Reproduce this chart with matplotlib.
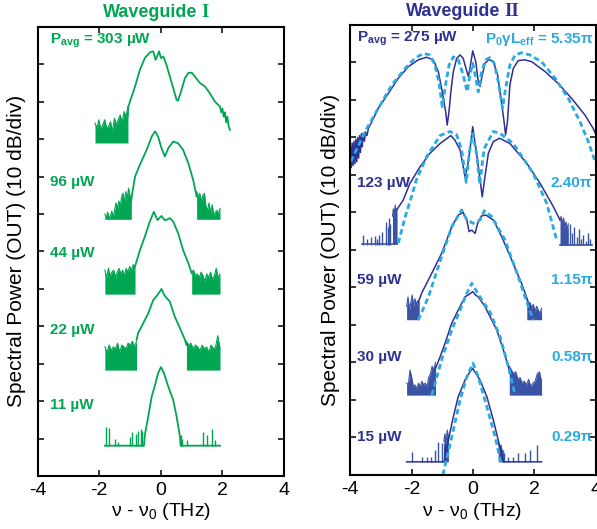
import numpy as np
import matplotlib
matplotlib.use("Agg")
import matplotlib.pyplot as plt

plt.rcParams['font.family'] = ['Liberation Sans', 'DejaVu Sans']
plt.rcParams['mathtext.fontset'] = 'custom'
plt.rcParams['mathtext.rm'] = 'Liberation Sans'
plt.rcParams['mathtext.bf'] = 'Liberation Sans:bold'
plt.rcParams['mathtext.it'] = 'Liberation Sans:italic'

GREEN = '#00A651'
NAVY = '#2E3192'
NOISE_BLUE = '#3A53A4'
CYAN = '#29ABE2'

# ---------- Waveguide I (green) : measured spectra, y in divisions ----------
wg1_labels = ['96 µW', '44 µW', '22 µW', '11 µW']
wg1_label_y = [7.86, 5.96, 3.90, 1.90]

wg1_303 = [(-1.08, 9.6), (-1.06, 9.87), (-0.84, 10.41), (-0.68, 10.86), (-0.52, 11.17),
           (-0.36, 11.32), (-0.25, 11.35), (-0.17, 11.12), (-0.06, 11.35), (0.0, 11.17),
           (0.08, 11.21), (0.18, 10.99), (0.29, 10.68), (0.40, 10.37), (0.51, 10.05),
           (0.56, 10.03), (0.67, 10.32), (0.78, 10.63), (0.89, 10.77), (1.0, 10.78),
           (1.10, 10.68), (1.27, 10.50), (1.43, 10.41), (1.59, 10.23), (1.75, 10.01),
           (1.92, 9.87), (1.96, 9.72), (2.0, 9.82), (2.04, 9.6), (2.08, 9.72),
           (2.12, 9.45), (2.16, 9.6), (2.2, 9.35), (2.24, 9.25)]
wg1_96 = [(-0.97, 7.3), (-0.95, 7.45), (-0.90, 7.7), (-0.84, 8.0), (-0.68, 8.32), (-0.46, 8.72),
          (-0.30, 9.07), (-0.19, 9.21), (-0.09, 9.07), (0.02, 8.76), (0.13, 8.54),
          (0.24, 8.76), (0.40, 8.94), (0.56, 8.89), (0.72, 8.72), (0.89, 8.36),
          (1.05, 7.91), (1.16, 7.47)]
wg1_44 = [(-0.84, 5.60), (-0.68, 6.04), (-0.52, 6.40), (-0.36, 6.80), (-0.23, 7.06),
          (-0.11, 6.84), (0.02, 6.95), (0.13, 6.83), (0.29, 6.89), (0.40, 6.80),
          (0.56, 6.49), (0.72, 6.04), (0.89, 5.69), (1.0, 5.42)]
wg1_22 = [(-0.79, 3.64), (-0.74, 3.82), (-0.63, 3.99), (-0.41, 4.35), (-0.25, 4.70),
          (-0.1, 4.85), (0.02, 5.0), (0.12, 4.82), (0.29, 4.66), (0.45, 4.26),
          (0.62, 3.95), (0.78, 3.64), (0.83, 3.5)]
wg1_11 = [(-1.82, 0.81), (-0.55, 0.81), (-0.52, 1.10), (-0.41, 1.59), (-0.30, 2.12),
          (-0.19, 2.43), (-0.09, 2.75), (0.0, 2.91), (0.10, 2.75), (0.24, 2.39),
          (0.40, 2.03), (0.51, 1.59), (0.62, 1.05), (0.64, 0.81), (1.92, 0.81)]

# noise floors: (x start, x end, floor, ragged tops)
wg1_noise = [
    (-2.14, -1.07, 8.90, [9.43, 9.30, 9.52, 9.25, 9.39, 9.52, 9.30, 9.34, 9.47, 9.20,
                          9.56, 9.40, 9.52, 9.65, 9.45, 9.74, 9.60, 9.87]),
    (-1.82, -0.96, 6.86, [7.0, 6.9, 7.05, 6.9, 6.95, 7.08, 6.9, 7.1, 7.3, 7.15,
                          7.35, 7.2, 7.45, 7.56, 7.3, 7.6, 7.4, 7.69, 7.5, 7.3]),
    (1.16, 1.92, 6.86, [7.6, 7.45, 7.55, 7.35, 7.5, 7.55, 7.2, 7.1, 7.3, 7.0,
                        7.25, 6.95, 7.05, 7.1, 7.0, 7.15]),
    (-1.82, -0.84, 4.86, [5.5, 5.3, 5.55, 5.35, 5.45, 5.5, 5.3, 5.45, 5.55, 5.4,
                          5.5, 5.35, 5.55, 5.45, 5.6, 5.5, 5.65, 5.6]),
    (1.0, 1.92, 4.86, [5.45, 5.5, 5.35, 5.4, 5.3, 5.45, 5.35, 5.2, 5.4, 5.3,
                       5.45, 5.25, 5.35, 5.55, 5.3, 5.4]),
    (-1.82, -0.79, 2.83, [3.45, 3.3, 3.5, 3.35, 3.45, 3.4, 3.55, 3.3, 3.5, 3.45,
                          3.4, 3.55, 3.5, 3.6, 3.45, 3.6]),
    (0.83, 1.92, 2.83, [3.6, 3.5, 3.55, 3.4, 3.5, 3.45, 3.35, 3.5, 3.4, 3.45,
                        3.3, 3.5, 3.4, 3.45, 3.75, 3.4]),
]
wg1_11_spike_x = [-1.79, -1.69, -1.49, -1.40, -1.01, -0.93, -0.81, -0.73, -0.66, -0.60,
                  0.64, 0.70, 0.84, 1.37, 1.50, 1.65, 1.76]
wg1_11_spike_top = [1.30, 1.28, 1.0, 0.92, 1.05, 1.18, 1.12, 1.21, 1.25, 1.2,
                    1.1, 1.0, 0.95, 1.18, 1.09, 1.26, 0.95]

# ---------- Waveguide II (navy = measured, cyan dashed = simulated) ----------
wg2_labels = ['123 µW', '59 µW', '30 µW', '15 µW']
wg2_phase = ['2.40π', '1.15π', '0.58π', '0.29π']
wg2_label_y = [7.79, 5.2, 3.15, 1.02]

wg2_275 = [(-4.0, 8.15), (-3.98, 8.75), (-3.96, 8.2), (-3.93, 8.85), (-3.9, 8.25),
           (-3.87, 8.9), (-3.84, 8.3), (-3.81, 8.95), (-3.78, 8.35), (-3.75, 9.0),
           (-3.72, 8.45), (-3.69, 9.05), (-3.66, 8.6), (-3.63, 9.1), (-3.6, 8.75),
           (-3.57, 9.12), (-3.53, 8.9), (-3.5, 9.15), (-3.45, 9.05), (-3.4, 9.25),
           (-3.29, 9.42), (-3.08, 9.78), (-2.75, 10.18), (-2.43, 10.58), (-2.10, 10.89),
           (-1.78, 11.07), (-1.51, 11.14), (-1.29, 11.07), (-1.13, 10.76), (-1.00, 10.22),
           (-0.89, 9.69), (-0.84, 9.33), (-0.78, 9.69), (-0.72, 10.22), (-0.64, 10.76),
           (-0.53, 11.11), (-0.42, 11.2), (-0.32, 11.11), (-0.20, 10.76), (-0.15, 10.62),
           (-0.10, 10.84), (-0.01, 11.31), (0.09, 11.02), (0.17, 10.49), (0.23, 10.36),
           (0.28, 10.58), (0.39, 10.98), (0.52, 11.08), (0.66, 11.02), (0.80, 10.67),
           (0.91, 10.04), (1.01, 9.42), (1.06, 9.07), (1.12, 9.42), (1.20, 10.4),
           (1.31, 10.84), (1.47, 11.05), (1.69, 11.07), (1.91, 11.02), (2.34, 10.76),
           (2.77, 10.44), (3.21, 10.04), (3.64, 9.6), (3.91, 9.24), (4.0, 9.07)]
sim_275 = [(-3.97, 8.36), (-3.51, 9.16), (-3.08, 9.78), (-2.64, 10.4), (-2.21, 10.84),
           (-1.89, 11.11), (-1.62, 11.24), (-1.40, 11.2), (-1.24, 10.93), (-1.11, 10.49),
           (-1.00, 9.82), (-0.91, 10.31), (-0.78, 10.93), (-0.64, 11.15), (-0.48, 11.07),
           (-0.32, 10.67), (-0.19, 10.22), (-0.10, 10.67), (-0.01, 10.98), (0.07, 10.67),
           (0.17, 10.22), (0.28, 10.76), (0.41, 11.07), (0.55, 11.13), (0.69, 10.98),
           (0.82, 10.49), (0.96, 9.78), (1.06, 10.31), (1.20, 10.93), (1.37, 11.2),
           (1.58, 11.26), (1.85, 11.2), (2.23, 11.02), (2.67, 10.58), (3.10, 10.04),
           (3.48, 9.42), (3.75, 8.89), (3.97, 8.36)]

wg2_123 = [(-2.48, 7.07), (-2.27, 7.33), (-2.05, 7.78), (-1.72, 8.22), (-1.40, 8.58),
           (-1.07, 8.84), (-0.72, 9.05), (-0.59, 8.93), (-0.42, 8.67), (-0.32, 8.22),
           (-0.26, 7.96), (-0.18, 8.22), (-0.10, 8.67), (-0.01, 9.29), (0.10, 8.67),
           (0.23, 7.87), (0.30, 7.42), (0.39, 7.96), (0.50, 8.58), (0.66, 8.89),
           (0.86, 8.98), (1.20, 8.84), (1.75, 8.31), (2.18, 7.78), (2.61, 7.16),
           (2.83, 6.8)]
sim_123 = [(-2.43, 6.18), (-2.2, 6.9), (-1.99, 7.45), (-1.85, 7.85), (-1.51, 8.49),
           (-1.07, 9.05), (-0.75, 9.16), (-0.53, 9.07), (-0.37, 8.67), (-0.22, 7.8),
           (-0.12, 8.6), (-0.01, 9.1), (0.12, 8.55), (0.22, 7.75), (0.36, 8.7),
           (0.66, 9.16), (0.88, 9.11), (1.31, 8.84), (1.96, 8.04), (2.40, 7.24),
           (2.72, 6.27)]

wg2_59 = [(-1.78, 4.6), (-1.67, 4.85), (-1.34, 5.38), (-1.02, 5.91), (-0.69, 6.62),
          (-0.48, 6.93), (-0.32, 7.0), (-0.20, 6.8), (-0.13, 6.49), (-0.04, 6.53),
          (0.07, 6.44), (0.15, 6.71), (0.28, 6.91), (0.42, 6.93), (0.66, 6.8),
          (0.93, 6.36), (1.26, 5.73), (1.58, 5.11), (1.85, 4.49)]
sim_59 = [(-1.78, 4.13), (-1.45, 4.75), (-1.02, 5.82), (-0.69, 6.62), (-0.37, 7.07),
          (-0.20, 6.8), (0.01, 6.71), (0.23, 6.8), (0.37, 7.05), (0.61, 6.89),
          (1.04, 6.27), (1.47, 5.29), (1.80, 4.49), (1.96, 4.13)]

wg2_30 = [(-1.24, 2.8), (-1.07, 3.15), (-0.91, 3.51), (-0.69, 4.05), (-0.48, 4.4),
          (-0.26, 4.75), (-0.12, 4.82), (-0.01, 4.89), (0.08, 4.8), (0.17, 4.75),
          (0.39, 4.49), (0.61, 4.13), (0.77, 3.87), (0.99, 3.33), (1.15, 2.89),
          (1.2, 2.7)]
sim_30 = [(-1.34, 2.13), (-1.02, 3.07), (-0.69, 3.87), (-0.42, 4.4), (-0.2, 4.85),
          (-0.04, 5.11), (0.15, 4.85), (0.3, 4.65), (0.55, 4.35), (0.88, 3.69),
          (1.15, 2.89), (1.31, 2.35), (1.36, 2.13)]

wg2_15 = [(-2.16, 0.35), (-0.93, 0.35), (-0.90, 0.8), (-0.86, 0.6), (-0.80, 0.93),
          (-0.72, 1.25), (-0.64, 1.55), (-0.48, 2.09), (-0.26, 2.53), (-0.1, 2.75),
          (-0.01, 2.84), (0.1, 2.7), (0.23, 2.53), (0.45, 2.09), (0.66, 1.47),
          (0.82, 0.93), (0.93, 0.58), (0.98, 0.35), (2.23, 0.35)]
sim_15 = [(-0.98, 0.0), (-0.69, 1.02), (-0.42, 2.0), (-0.20, 2.62), (0.0, 2.98),
          (0.17, 2.62), (0.45, 1.82), (0.72, 1.02), (0.91, 0.31)]

wg2_noise = [
    (-2.62, -2.47, 6.16, [6.9, 7.1, 6.95, 7.2, 7.0, 7.1]),
    (2.83, 3.10, 6.13, [6.8, 6.9, 6.7, 6.85, 6.6, 6.75, 6.55, 6.7]),
    (-2.16, -1.75, 4.14, [4.5, 4.75, 4.4, 4.6, 4.8, 4.5, 4.7, 4.55, 4.65, 4.6]),
    (1.75, 2.23, 4.14, [4.7, 4.5, 4.6, 4.45, 4.55, 4.35, 4.5, 4.4, 4.3, 4.45]),
    (-2.16, -1.22, 2.13, [2.45, 2.4, 2.8, 2.6, 2.35, 2.4, 2.3, 2.45, 2.35, 2.5,
                          2.4, 2.45, 2.35, 2.6, 2.7, 2.9, 2.8, 3.0]),
    (1.18, 2.23, 2.13, [2.9, 2.8, 2.7, 2.75, 2.55, 2.6, 2.45, 2.5, 2.4, 2.55,
                        2.35, 2.45, 2.5, 2.7, 2.75, 2.5]),
    (-0.95, -0.80, 0.35, [0.9, 1.1, 0.85, 1.2, 1.0]),
    (0.82, 1.0, 0.35, [0.9, 0.7, 0.8, 0.6, 0.65]),
]
wg2_123_floor = [(-3.62, -2.48, 6.16), (2.83, 3.86, 6.13)]
wg2_123_spike_x = [-3.57, -3.44, -3.31, -3.2, -3.12, -3.05, -2.96, -2.83, -2.78, -2.74,
                   -2.7, 3.15, 3.22, 3.3, 3.38, 3.45, 3.5, 3.58, 3.66, 3.75, 3.8]
wg2_123_spike_top = [6.4, 6.3, 6.35, 6.38, 6.3, 6.4, 6.49, 6.75, 6.6, 6.85,
                     6.7, 6.7, 6.45, 6.6, 6.35, 6.55, 6.3, 6.4, 6.25, 6.45, 6.3]
wg2_15_spike_x = [-1.99, -1.67, -1.51, -1.37, -1.24, -1.13, -1.02,
                  1.02, 1.15, 1.31, 1.47, 1.69, 1.85, 2.09]
wg2_15_spike_top = [0.62, 0.49, 0.49, 0.49, 0.67, 0.89, 0.84,
                    0.58, 0.49, 0.49, 0.58, 0.58, 0.67, 0.8]


def curve(ax, pts, color, **kw):
    xs, ys = zip(*pts)
    ax.plot(xs, ys, color=color, **kw)


def noise_block(ax, x0, x1, floor, tops, color):
    xs = np.linspace(x0, x1, len(tops))
    ax.fill_between(xs, floor, tops, color=color, lw=0)
    ax.plot(xs, tops, color=color, lw=0.8)


def style_axes(ax):
    ax.set_xlim(-4, 4)
    ax.set_ylim(0, 12)
    ax.set_xticks([-4, -2, 0, 2, 4])
    ax.set_xticklabels(['-4', '-2', '0', '2', '4'])
    ax.set_yticks(range(1, 12))
    ax.set_yticklabels([])
    ax.tick_params(direction='in', top=True, right=True, length=4.5, width=1.1,
                   labelsize=14, pad=4)
    for s in ax.spines.values():
        s.set_linewidth(1.5)


fig = plt.figure(figsize=(5.97, 5.29), dpi=100)
ax1 = fig.add_axes([0.0632, 0.1002, 0.4126, 0.8488])
ax2 = fig.add_axes([0.5863, 0.1021, 0.4120, 0.8507])

# ---- left panel ----
for x0, x1, fl, tops in wg1_noise:
    noise_block(ax1, x0, x1, fl, tops, GREEN)
for pts in [wg1_303, wg1_96, wg1_44, wg1_22, wg1_11]:
    curve(ax1, pts, GREEN, lw=1.3)
ax1.vlines(wg1_11_spike_x, 0.81, wg1_11_spike_top, color=GREEN, lw=1.0)

ax1.text(-3.6, 11.62, r'$\mathbf{P}_\mathbf{avg}$ = 303 µW', color=GREEN, fontsize=11,
         fontweight='bold', va='center')
for lab, y in zip(wg1_labels, wg1_label_y):
    ax1.text(-3.6, y, lab, color=GREEN, fontsize=11, fontweight='bold', va='center')
style_axes(ax1)
ax1.text(0.647, 1.033, 'Waveguide', transform=ax1.transAxes, ha='right', va='center',
         color=GREEN, fontsize=13, fontweight='bold')
ax1.text(0.665, 1.033, 'I', transform=ax1.transAxes, ha='left', va='center',
         color=GREEN, fontsize=13.5, fontweight='bold', family='Liberation Serif')

# ---- right panel ----
for x0, x1, fl, tops in wg2_noise:
    noise_block(ax2, x0, x1, fl, tops, NOISE_BLUE)
for x0, x1, fl in wg2_123_floor:
    ax2.plot([x0, x1], [fl, fl], color=NOISE_BLUE, lw=1.2)
ax2.vlines(wg2_123_spike_x, 6.14, wg2_123_spike_top, color=NOISE_BLUE, lw=1.0)
ax2.vlines(wg2_15_spike_x, 0.35, wg2_15_spike_top, color=NOISE_BLUE, lw=1.0)
for pts in [wg2_275, wg2_123, wg2_59, wg2_30, wg2_15]:
    curve(ax2, pts, NAVY, lw=1.1)
for pts in [sim_275, sim_123, sim_59, sim_30, sim_15]:
    curve(ax2, pts, CYAN, lw=2.0, ls=(0, (2.0, 1.2)))

ax2.text(-3.78, 11.62, r'$\mathbf{P}_\mathbf{avg}$ = 275 µW', color=NAVY, fontsize=11,
         fontweight='bold', va='center')
ax2.text(3.92, 11.62, r'$\mathbf{P}_\mathbf{0}$γ$\mathbf{L}_\mathbf{eff}$ = 5.35π',
         color=CYAN, fontsize=11, fontweight='bold', va='center', ha='right')
for lab, ph, y in zip(wg2_labels, wg2_phase, wg2_label_y):
    ax2.text(-3.78, y, lab, color=NAVY, fontsize=11, fontweight='bold', va='center')
    ax2.text(3.88, y, ph, color=CYAN, fontsize=11, fontweight='bold', va='center', ha='right')
style_axes(ax2)
ax2.text(0.61, 1.029, 'Waveguide', transform=ax2.transAxes, ha='right', va='center',
         color=NAVY, fontsize=13, fontweight='bold')
ax2.text(0.628, 1.029, 'II', transform=ax2.transAxes, ha='left', va='center',
         color=NAVY, fontsize=13.5, fontweight='bold', family='Liberation Serif')

# ---- axis labels ----
ylab = 'Spectral Power (OUT) (10 dB/div)'
fig.text(17 / 597, 0.5255, ylab, rotation=90, ha='center', va='center', fontsize=15)
fig.text(331 / 597, 0.5274, ylab, rotation=90, ha='center', va='center', fontsize=15)
xlab = r'ν - ν$_0$ (THz)'
fig.text(0.2697, 0.034, xlab, ha='center', va='center', fontsize=14)
fig.text(0.790, 0.034, xlab, ha='center', va='center', fontsize=14)

fig.savefig('out.png', dpi=100)
